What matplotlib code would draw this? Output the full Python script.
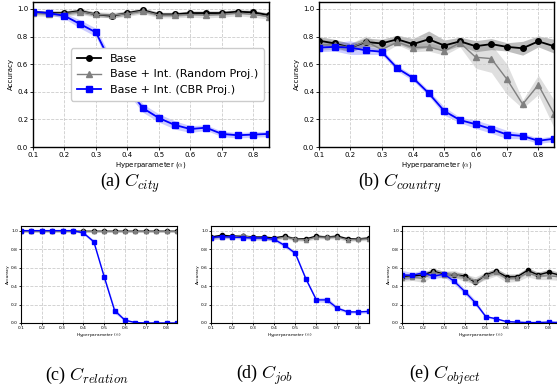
import matplotlib
matplotlib.use("Agg")
import matplotlib.pyplot as plt
import numpy as np

alphas = [0.1, 0.15, 0.2, 0.25, 0.3, 0.35, 0.4, 0.45, 0.5, 0.55, 0.6, 0.65, 0.7, 0.75, 0.8, 0.85]

# (a) city
city_base = [0.975, 0.97, 0.97, 0.985, 0.96, 0.95, 0.97, 0.99, 0.96, 0.96, 0.97, 0.97, 0.97, 0.98, 0.975, 0.955]
city_rand = [0.97, 0.965, 0.965, 0.98, 0.96, 0.955, 0.965, 0.985, 0.955, 0.955, 0.96, 0.955, 0.96, 0.97, 0.96, 0.945]
city_cbr = [0.98, 0.97, 0.95, 0.89, 0.83, 0.60, 0.43, 0.28, 0.21, 0.16, 0.13, 0.14, 0.095, 0.085, 0.09, 0.095]
city_base_sd = [0.015] * 16
city_rand_sd = [0.02] * 16
city_cbr_sd = [0.01, 0.01, 0.02, 0.03, 0.03, 0.04, 0.04, 0.03, 0.03, 0.03, 0.025, 0.02, 0.02, 0.02, 0.02, 0.02]

# (b) country
country_base = [0.77, 0.75, 0.72, 0.76, 0.75, 0.78, 0.745, 0.78, 0.735, 0.765, 0.73, 0.745, 0.725, 0.715, 0.765, 0.73]
country_rand = [0.74, 0.74, 0.72, 0.765, 0.705, 0.76, 0.72, 0.725, 0.695, 0.755, 0.65, 0.64, 0.49, 0.31, 0.45, 0.24]
country_cbr = [0.72, 0.725, 0.72, 0.70, 0.69, 0.57, 0.50, 0.39, 0.26, 0.195, 0.165, 0.13, 0.09, 0.08, 0.045, 0.06]
country_base_sd = [0.03, 0.03, 0.03, 0.03, 0.03, 0.03, 0.04, 0.06, 0.04, 0.03, 0.04, 0.04, 0.03, 0.05, 0.04, 0.05]
country_rand_sd = [0.04, 0.03, 0.03, 0.04, 0.03, 0.02, 0.03, 0.03, 0.03, 0.03, 0.08, 0.1, 0.11, 0.03, 0.07, 0.1]
country_cbr_sd = [0.03, 0.03, 0.05, 0.03, 0.02, 0.02, 0.02, 0.02, 0.03, 0.02, 0.03, 0.03, 0.03, 0.02, 0.02, 0.02]

# (c) relation
rel_base = [1.0] * 16
rel_rand = [0.995] * 16
rel_cbr = [1.0, 1.0, 1.0, 1.0, 1.0, 1.0, 0.975, 0.88, 0.5, 0.135, 0.03, 0.005, 0.0, 0.0, 0.0, 0.0]
rel_base_sd = [0.005] * 16
rel_rand_sd = [0.008] * 16
rel_cbr_sd = [0.0, 0.0, 0.0, 0.0, 0.0, 0.005, 0.015, 0.02, 0.02, 0.03, 0.01, 0.005, 0.0, 0.0, 0.0, 0.0]

# (d) job
job_base = [0.93, 0.95, 0.94, 0.94, 0.93, 0.93, 0.92, 0.94, 0.91, 0.91, 0.94, 0.93, 0.94, 0.91, 0.91, 0.92]
job_rand = [0.92, 0.93, 0.93, 0.95, 0.92, 0.92, 0.91, 0.93, 0.91, 0.90, 0.93, 0.93, 0.93, 0.90, 0.91, 0.91]
job_cbr = [0.925, 0.935, 0.93, 0.925, 0.92, 0.92, 0.905, 0.84, 0.755, 0.48, 0.25, 0.25, 0.16, 0.12, 0.12, 0.125]
job_base_sd = [0.015] * 16
job_rand_sd = [0.02] * 16
job_cbr_sd = [0.02, 0.02, 0.015, 0.02, 0.02, 0.02, 0.02, 0.02, 0.02, 0.02, 0.02, 0.03, 0.02, 0.015, 0.015, 0.02]

# (e) object
obj_base = [0.50, 0.51, 0.52, 0.56, 0.53, 0.52, 0.51, 0.44, 0.52, 0.56, 0.50, 0.50, 0.57, 0.52, 0.55, 0.52]
obj_rand = [0.49, 0.50, 0.48, 0.55, 0.52, 0.53, 0.49, 0.46, 0.51, 0.55, 0.48, 0.49, 0.54, 0.51, 0.51, 0.50]
obj_cbr = [0.52, 0.515, 0.545, 0.505, 0.53, 0.45, 0.34, 0.22, 0.07, 0.045, 0.015, 0.01, 0.005, 0.005, 0.01, 0.005]
obj_base_sd = [0.03] * 16
obj_rand_sd = [0.04] * 16
obj_cbr_sd = [0.05, 0.03, 0.03, 0.03, 0.03, 0.03, 0.03, 0.03, 0.015, 0.01, 0.005, 0.005, 0.005, 0.005, 0.005, 0.005]

xticks = [0.1, 0.2, 0.3, 0.4, 0.5, 0.6, 0.7, 0.8]
yticks = [0.0, 0.2, 0.4, 0.6, 0.8, 1.0]
labels = ["Base", "Base + Int. (Random Proj.)", "Base + Int. (CBR Proj.)"]
captions = [r"(a) $C_{city}$", r"(b) $C_{country}$", r"(c) $C_{relation}$",
            r"(d) $C_{job}$", r"(e) $C_{object}$"]

plt.rcParams['mathtext.fontset'] = 'cm'

W, H = 557, 390
fig = plt.figure(figsize=(W / 100, H / 100), dpi=100)


def px_axes(l, t, r, b):
    return fig.add_axes([l / W, 1 - b / H, (r - l) / W, (b - t) / H])


def draw(ax, base, rand, cbr, bsd, rsd, csd, small):
    x = np.array(alphas)
    ms = 4 if not small else 3
    series = [(base, bsd, 'black', 'o', 0.25, 1.3 if not small else 1.0),
              (rand, rsd, 'gray', '^', 0.25, 1.0 if not small else 0.8),
              (cbr, csd, 'blue', 's', 0.2, 1.3 if not small else 1.0)]
    handles = []
    for (y, sd, c, m, a, lw), lab in zip(series, labels):
        y = np.array(y); sd = np.array(sd)
        ax.fill_between(x, y - sd, y + sd, color=c, alpha=a, lw=0)
        h, = ax.plot(x, y, color=c, marker=m, ms=ms, lw=lw, label=lab)
        handles.append(h)
    ax.set_xlim(0.1, 0.85)
    ax.set_ylim(0, 1.05)
    ax.set_xticks(xticks)
    ax.set_yticks(yticks)
    fs = 5 if not small else 3.2
    ax.tick_params(labelsize=fs, length=2 if not small else 1.2, width=0.6, pad=1.5 if not small else 1)
    ax.grid(True, ls='--', color='#cccccc', lw=0.6)
    ax.set_xlabel(r"Hyperparameter ($\alpha$)", fontsize=fs, labelpad=1.5 if not small else 1)
    ax.set_ylabel("Accuracy", fontsize=fs, labelpad=2 if not small else 1)
    for s in ax.spines.values():
        s.set_linewidth(1.0 if not small else 0.8)
        s.set_color('black')
    return handles


ax_a = px_axes(33, 2, 269, 147)
hs = draw(ax_a, city_base, city_rand, city_cbr, city_base_sd, city_rand_sd, city_cbr_sd, False)
ax_a.legend(handles=hs, loc='center', bbox_to_anchor=(0.57, 0.50), fontsize=8,
            framealpha=1, edgecolor='#cccccc', handlelength=2.2, borderpad=0.5,
            labelspacing=0.5, fancybox=True)

ax_b = px_axes(319, 2, 554, 147)
draw(ax_b, country_base, country_rand, country_cbr, country_base_sd, country_rand_sd, country_cbr_sd, False)

ax_c = px_axes(21, 226, 177, 323)
draw(ax_c, rel_base, rel_rand, rel_cbr, rel_base_sd, rel_rand_sd, rel_cbr_sd, True)

ax_d = px_axes(211, 226, 369, 323)
draw(ax_d, job_base, job_rand, job_cbr, job_base_sd, job_rand_sd, job_cbr_sd, True)

ax_e = px_axes(402, 226, 559, 323)
draw(ax_e, obj_base, obj_rand, obj_cbr, obj_base_sd, obj_rand_sd, obj_cbr_sd, True)

cap_pos = [(130, 183), (400, 183), (87, 375), (265, 375), (445, 375)]
for (cx, cy), t in zip(cap_pos, captions):
    fig.text(cx / W, 1 - cy / H, t, fontsize=13, ha='center', va='center',
             family='Liberation Serif')

fig.savefig("out.png", dpi=100)
